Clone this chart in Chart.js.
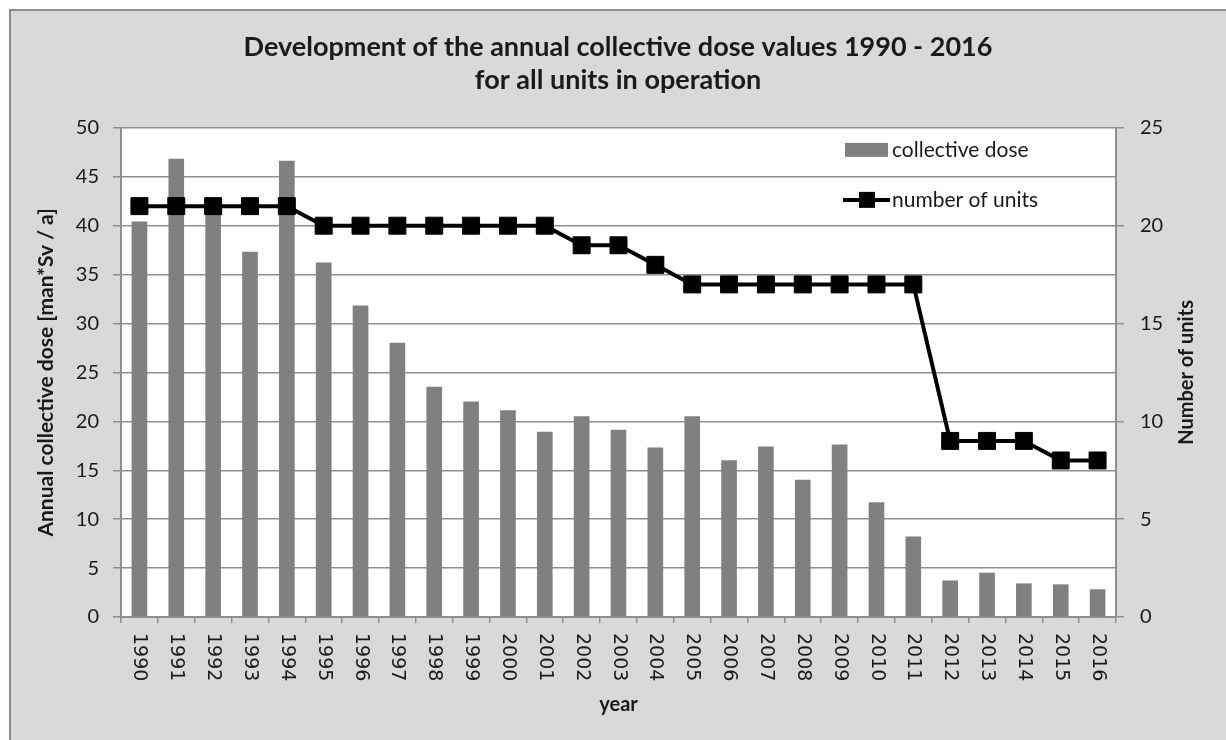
<!DOCTYPE html>
<html>
<head>
<meta charset="utf-8">
<script src="https://cdn.jsdelivr.net/npm/chart.js@4.4.1/dist/chart.umd.min.js"></script>
<style>
  html, body { margin: 0; padding: 0; background: #fff; }
  #wrap { width: 1226px; height: 740px; }
</style>
</head>
<body>
<div id="wrap"><canvas id="doseChart" width="1226" height="740"></canvas></div>
<script>
// data
const years = ['1990', '1991', '1992', '1993', '1994', '1995', '1996', '1997', '1998', '1999',
  '2000', '2001', '2002', '2003', '2004', '2005', '2006', '2007', '2008', '2009',
  '2010', '2011', '2012', '2013', '2014', '2015', '2016'];
const collectiveDose = [40.4, 46.8, 41.8, 37.3, 46.6, 36.2, 31.8, 28.0, 23.5, 22.0,
  21.1, 18.9, 20.5, 19.1, 17.3, 20.5, 16.0, 17.4, 14.0, 17.6,
  11.7, 8.2, 3.7, 4.5, 3.4, 3.3, 2.8];
const numberOfUnits = [21, 21, 21, 21, 21, 20, 20, 20, 20, 20,
  20, 20, 19, 19, 18, 17, 17, 17, 17, 17,
  17, 17, 9, 9, 9, 8, 8];

const titleLines = ['Development of the annual collective dose values 1990 - 2016', 'for all units in operation'];
const leftTitle = 'Annual collective dose [man*Sv / a]';
const rightTitle = 'Number of units';
const xTitle = 'year';

const GRID = '#8f8f8f';
const TEXT = '#1a1a1a';

Chart.defaults.font.family = 'Lato';
Chart.defaults.color = TEXT;

// grauer Rahmen + weisse Plotflaeche
const framePlugin = {
  id: 'frame',
  beforeDraw(chart) {
    const ctx = chart.ctx;
    const w = chart.width, h = chart.height;
    const a = chart.chartArea;
    ctx.save();
    ctx.fillStyle = '#fff';
    ctx.fillRect(0, 0, w, h);
    ctx.fillStyle = '#d9d9d9';
    ctx.fillRect(10, 10, w, h);
    ctx.strokeStyle = '#8c8c8c';
    ctx.lineWidth = 2;
    ctx.beginPath();
    ctx.moveTo(10, h);
    ctx.lineTo(10, 10);
    ctx.lineTo(w, 10);
    ctx.stroke();
    ctx.fillStyle = '#fff';
    ctx.fillRect(a.left, a.top, a.right - a.left, a.bottom - a.top);
    ctx.restore();
  }
};

// x labels turned clockwise, rechte Achsentitel von unten nach oben
const axisTextPlugin = {
  id: 'axisText',
  afterDraw(chart) {
    const ctx = chart.ctx;
    const xs = chart.scales.x;
    const a = chart.chartArea;
    ctx.save();
    ctx.fillStyle = TEXT;
    ctx.font = '19px "DejaVu Sans"';
    ctx.textAlign = 'left';
    ctx.textBaseline = 'middle';
    xs.ticks.forEach((t, i) => {
      const x = xs.getPixelForTick(i);
      ctx.save();
      ctx.translate(x, a.bottom + 16);
      ctx.rotate(Math.PI / 2);
      ctx.fillText(xs.getLabelForValue(t.value), 0, 0);
      ctx.restore();
    });
    ctx.font = 'bold 20px Lato';
    ctx.textAlign = 'center';
    ctx.translate(1187, (a.top + a.bottom) / 2);
    ctx.rotate(-Math.PI / 2);
    ctx.fillText(rightTitle, 0, 0);
    ctx.restore();
  }
};

// Legende innerhalb der Plotflaeche
const insideLegendPlugin = {
  id: 'insideLegend',
  afterDraw(chart) {
    const ctx = chart.ctx;
    const a = chart.chartArea;
    const bars = chart.data.datasets.find(d => d.type === 'bar');
    const line = chart.data.datasets.find(d => d.type === 'line');
    const x0 = a.right - 271;
    ctx.save();
    ctx.font = '21px Lato';
    ctx.textBaseline = 'middle';
    ctx.fillStyle = bars.backgroundColor;
    ctx.fillRect(x0, a.top + 15, 43, 14);
    ctx.fillStyle = TEXT;
    ctx.fillText(bars.label, x0 + 47, a.top + 22);

    const ly = a.top + 72;
    ctx.strokeStyle = line.borderColor;
    ctx.lineWidth = 4;
    ctx.beginPath();
    ctx.moveTo(x0 - 2, ly);
    ctx.lineTo(x0 + 45, ly);
    ctx.stroke();
    ctx.fillStyle = line.pointBackgroundColor;
    ctx.fillRect(x0 + 14, ly - 8, 16, 16);
    ctx.fillStyle = TEXT;
    ctx.fillText(line.label, x0 + 47, ly);
    ctx.restore();
  }
};

const ctx = document.getElementById('doseChart').getContext('2d');
new Chart(ctx, {
  data: {
    labels: years,
    datasets: [{
      type: 'line',
      label: 'number of units',
      data: numberOfUnits,
      borderColor: '#000',
      borderWidth: 4,
      pointStyle: 'rect',
      pointRadius: 12,
      pointBackgroundColor: '#000',
      pointBorderColor: '#000',
      pointBorderWidth: 1,
      tension: 0,
      yAxisID: 'y2',
      order: 0
    }, {
      type: 'bar',
      label: 'collective dose',
      data: collectiveDose,
      backgroundColor: '#808080',
      barThickness: 15,
      yAxisID: 'y',
      order: 1
    }]
  },
  options: {
    responsive: false,
    animation: false,
    devicePixelRatio: 1,
    layout: { padding: { left: 10, right: 0, top: 0, bottom: 0 } },
    plugins: {
      legend: { display: false },
      tooltip: { enabled: false },
      title: {
        display: true,
        text: titleLines,
        color: TEXT,
        font: { size: 27, weight: 'bold', lineHeight: 1.22 },
        padding: { top: 31, bottom: 31 }
      }
    },
    scales: {
      x: {
        offset: true,
        grid: { display: true, drawOnChartArea: false, color: GRID, lineWidth: 1.5, tickLength: 6 },
        border: { color: GRID, width: 2 },
        ticks: { display: false },
        title: {
          display: true,
          text: xTitle,
          color: TEXT,
          font: { size: 20, weight: 'bold', lineHeight: 1.2 },
          padding: { top: 0, bottom: 23 }
        },
        afterFit(scale) { scale.height = 123; }
      },
      y: {
        position: 'left',
        min: 0,
        max: 50,
        ticks: { stepSize: 5, padding: 14, color: TEXT, font: { size: 20 } },
        grid: { color: GRID, lineWidth: 1.5, tickLength: 8 },
        border: { color: GRID, width: 2 },
        title: {
          display: true,
          text: leftTitle,
          color: TEXT,
          font: { size: 21, weight: 'bold', lineHeight: 1.2 },
          padding: { top: 24, bottom: 0 }
        },
        afterFit(scale) { scale.width = 111; }
      },
      y2: {
        position: 'right',
        min: 0,
        max: 25,
        ticks: { stepSize: 5, padding: 16, color: TEXT, font: { size: 20 } },
        grid: { drawOnChartArea: false, color: GRID, lineWidth: 1.5, tickLength: 8 },
        border: { color: GRID, width: 2 },
        afterFit(scale) { scale.width = 110; }
      }
    }
  },
  plugins: [framePlugin, axisTextPlugin, insideLegendPlugin]
});
</script>
</body>
</html>
